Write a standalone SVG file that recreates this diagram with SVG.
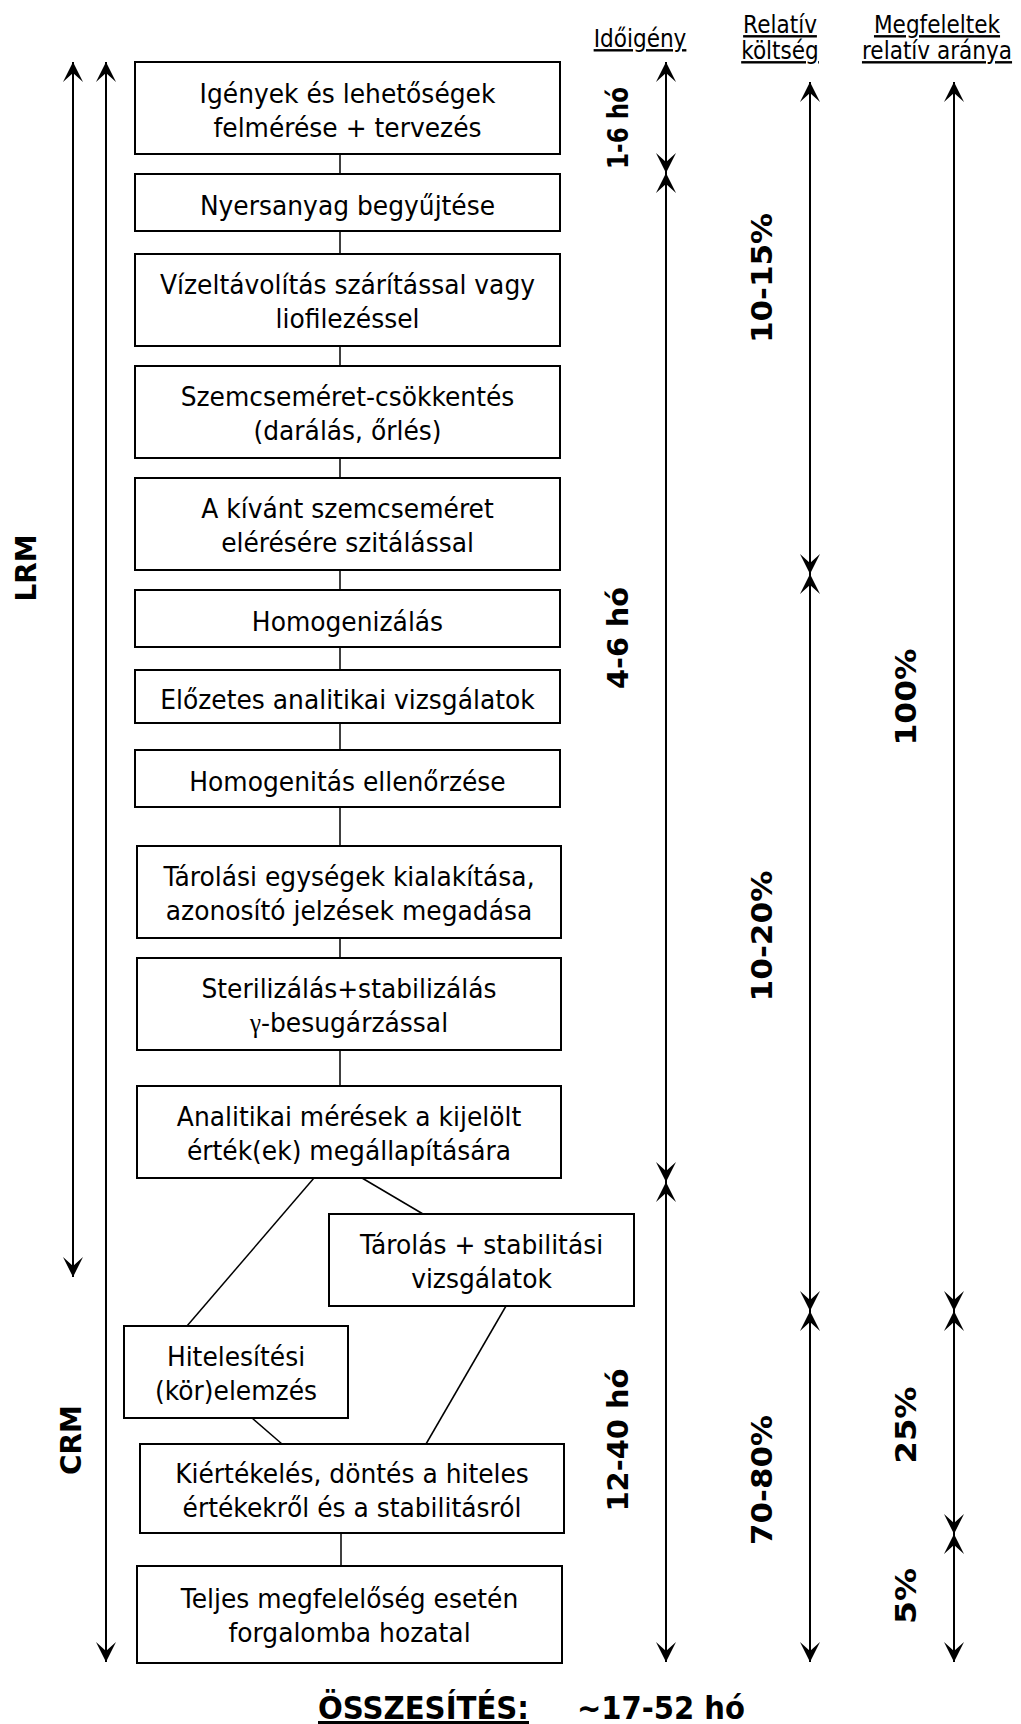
<svg xmlns="http://www.w3.org/2000/svg" width="1021" height="1724" viewBox="0 0 1021 1724">
  <style>
    .box { fill: #fff; stroke: #000; stroke-width: 2; }
    .t { font-family: "DejaVu Sans", Verdana, sans-serif; font-size: 27px; text-anchor: middle; fill: #000; }
    .hd { font-family: "DejaVu Sans", Verdana, sans-serif; font-size: 24px; text-anchor: middle; text-decoration: underline; fill: #000; }
    .lb { font-family: "DejaVu Sans", Verdana, sans-serif; font-size: 28.5px; font-weight: bold; text-anchor: middle; fill: #000; }
    .sum { font-family: "DejaVu Sans", Verdana, sans-serif; font-size: 32px; font-weight: bold; text-anchor: middle; fill: #000; }
    .link { stroke: #000; stroke-width: 1.5; fill: none; }
    .dim2 { stroke: #000; stroke-width: 2; fill: none; marker-start: url(#ah); marker-end: url(#ah); }
  </style>
  <defs>
    <marker id="ah" viewBox="-20 -10 20 20" refX="0" refY="0" markerWidth="20" markerHeight="20" markerUnits="userSpaceOnUse" orient="auto-start-reverse">
      <path d="M0,0 L-20,-10 L-11,0 L-20,10 Z" fill="#000"/>
    </marker>
  </defs>
  <rect width="1021" height="1724" fill="#fff"/>

  <!-- column headings -->
  <g id="headings">
    <text class="hd" transform="translate(640,47) scale(0.9,1)">Időigény</text>
    <text class="hd" transform="translate(780,33) scale(0.9,1)">Relatív</text>
    <text class="hd" transform="translate(780,59) scale(0.9,1)">költség</text>
    <text class="hd" transform="translate(937,33) scale(0.9,1)">Megfeleltek</text>
    <text class="hd" transform="translate(937,59) scale(0.9,1)">relatív aránya</text>
  </g>

  <!-- connectors: flow links and range arrows -->
  <g id="connectors">
    <line class="link" x1="340" y1="154" x2="340" y2="174"/>
    <line class="link" x1="340" y1="231" x2="340" y2="254"/>
    <line class="link" x1="340" y1="346" x2="340" y2="366"/>
    <line class="link" x1="340" y1="458" x2="340" y2="478"/>
    <line class="link" x1="340" y1="570" x2="340" y2="590"/>
    <line class="link" x1="340" y1="647" x2="340" y2="670"/>
    <line class="link" x1="340" y1="723" x2="340" y2="750"/>
    <line class="link" x1="340" y1="807" x2="340" y2="846"/>
    <line class="link" x1="340" y1="938" x2="340" y2="958"/>
    <line class="link" x1="340" y1="1050" x2="340" y2="1086"/>
    <line class="link" x1="314" y1="1178" x2="187" y2="1326"/>
    <line class="link" x1="362" y1="1178" x2="423" y2="1214"/>
    <line class="link" x1="506" y1="1306" x2="426" y2="1444"/>
    <line class="link" x1="252" y1="1418" x2="282" y2="1444"/>
    <line class="link" x1="341" y1="1533" x2="341" y2="1566"/>

    <!-- LRM / CRM spans -->
    <line class="dim2" x1="73" y1="62" x2="73" y2="1277"/>
    <line class="dim2" x1="106" y1="62" x2="106" y2="1662"/>

    <!-- time column -->
    <line class="dim2" x1="666" y1="62" x2="666" y2="173"/>
    <line class="dim2" x1="666" y1="173" x2="666" y2="1182"/>
    <line class="dim2" x1="666" y1="1182" x2="666" y2="1662"/>

    <!-- relative cost column -->
    <line class="dim2" x1="810" y1="82" x2="810" y2="574"/>
    <line class="dim2" x1="810" y1="574" x2="810" y2="1311"/>
    <line class="dim2" x1="810" y1="1311" x2="810" y2="1662"/>

    <!-- conforming ratio column -->
    <line class="dim2" x1="954" y1="82" x2="954" y2="1311"/>
    <line class="dim2" x1="954" y1="1311" x2="954" y2="1534"/>
    <line class="dim2" x1="954" y1="1534" x2="954" y2="1662"/>
  </g>

  <!-- process steps -->
  <g id="n1"><rect class="box" x="135" y="62" width="425" height="92"/>
    <text class="t" transform="translate(347.5,103) scale(0.925,1)">Igények és lehetőségek</text>
    <text class="t" transform="translate(347.5,137) scale(0.925,1)">felmérése + tervezés</text></g>
  <g id="n2"><rect class="box" x="135" y="174" width="425" height="57"/>
    <text class="t" transform="translate(347.5,215) scale(0.925,1)">Nyersanyag begyűjtése</text></g>
  <g id="n3"><rect class="box" x="135" y="254" width="425" height="92"/>
    <text class="t" transform="translate(347.5,294) scale(0.925,1)">Vízeltávolítás szárítással vagy</text>
    <text class="t" transform="translate(347.5,328) scale(0.925,1)">liofilezéssel</text></g>
  <g id="n4"><rect class="box" x="135" y="366" width="425" height="92"/>
    <text class="t" transform="translate(347.5,406) scale(0.925,1)">Szemcseméret-csökkentés</text>
    <text class="t" transform="translate(347.5,440) scale(0.925,1)">(darálás, őrlés)</text></g>
  <g id="n5"><rect class="box" x="135" y="478" width="425" height="92"/>
    <text class="t" transform="translate(347.5,518) scale(0.925,1)">A kívánt szemcseméret</text>
    <text class="t" transform="translate(347.5,552) scale(0.925,1)">elérésére szitálással</text></g>
  <g id="n6"><rect class="box" x="135" y="590" width="425" height="57"/>
    <text class="t" transform="translate(347.5,630.5) scale(0.925,1)">Homogenizálás</text></g>
  <g id="n7"><rect class="box" x="135" y="670" width="425" height="53"/>
    <text class="t" transform="translate(347.5,708.5) scale(0.925,1)">Előzetes analitikai vizsgálatok</text></g>
  <g id="n8"><rect class="box" x="135" y="750" width="425" height="57"/>
    <text class="t" transform="translate(347.5,790.5) scale(0.925,1)">Homogenitás ellenőrzése</text></g>
  <g id="n9"><rect class="box" x="137" y="846" width="424" height="92"/>
    <text class="t" transform="translate(349,886) scale(0.925,1)">Tárolási egységek kialakítása,</text>
    <text class="t" transform="translate(349,920) scale(0.925,1)">azonosító jelzések megadása</text></g>
  <g id="n10"><rect class="box" x="137" y="958" width="424" height="92"/>
    <text class="t" transform="translate(349,998) scale(0.925,1)">Sterilizálás+stabilizálás</text>
    <text class="t" transform="translate(349,1032) scale(0.925,1)"><tspan font-family="'Liberation Serif', serif">γ</tspan>-besugárzással</text></g>
  <g id="n11"><rect class="box" x="137" y="1086" width="424" height="92"/>
    <text class="t" transform="translate(349,1126) scale(0.925,1)">Analitikai mérések a kijelölt</text>
    <text class="t" transform="translate(349,1160) scale(0.925,1)">érték(ek) megállapítására</text></g>
  <g id="n12"><rect class="box" x="329" y="1214" width="305" height="92"/>
    <text class="t" transform="translate(481.5,1254) scale(0.925,1)">Tárolás + stabilitási</text>
    <text class="t" transform="translate(481.5,1288) scale(0.925,1)">vizsgálatok</text></g>
  <g id="n13"><rect class="box" x="124" y="1326" width="224" height="92"/>
    <text class="t" transform="translate(236,1366) scale(0.925,1)">Hitelesítési</text>
    <text class="t" transform="translate(236,1400) scale(0.925,1)">(kör)elemzés</text></g>
  <g id="n14"><rect class="box" x="140" y="1444" width="424" height="89"/>
    <text class="t" transform="translate(352,1483) scale(0.925,1)">Kiértékelés, döntés a hiteles</text>
    <text class="t" transform="translate(352,1517) scale(0.925,1)">értékekről és a stabilitásról</text></g>
  <g id="n15"><rect class="box" x="137" y="1566" width="425" height="97"/>
    <text class="t" transform="translate(349.5,1608) scale(0.925,1)">Teljes megfelelőség esetén</text>
    <text class="t" transform="translate(349.5,1642) scale(0.925,1)">forgalomba hozatal</text></g>

  <!-- rotated range labels -->
  <g id="labels">
    <text class="lb" transform="translate(36,568) rotate(-90)" textLength="67" lengthAdjust="spacingAndGlyphs">LRM</text>
    <text class="lb" transform="translate(81,1440) rotate(-90)" textLength="70" lengthAdjust="spacingAndGlyphs">CRM</text>
    <text class="lb" transform="translate(628,128) rotate(-90)" textLength="82" lengthAdjust="spacingAndGlyphs">1-6 hó</text>
    <text class="lb" transform="translate(628,638) rotate(-90)" textLength="102" lengthAdjust="spacingAndGlyphs">4-6 hó</text>
    <text class="lb" transform="translate(628,1440) rotate(-90)" textLength="143" lengthAdjust="spacingAndGlyphs">12-40 hó</text>
    <text class="lb" transform="translate(772,278) rotate(-90)" textLength="130" lengthAdjust="spacingAndGlyphs">10-15%</text>
    <text class="lb" transform="translate(772,936) rotate(-90)" textLength="131" lengthAdjust="spacingAndGlyphs">10-20%</text>
    <text class="lb" transform="translate(772,1480) rotate(-90)" textLength="130" lengthAdjust="spacingAndGlyphs">70-80%</text>
    <text class="lb" transform="translate(916,697) rotate(-90)" textLength="97" lengthAdjust="spacingAndGlyphs">100%</text>
    <text class="lb" transform="translate(916,1425) rotate(-90)" textLength="77" lengthAdjust="spacingAndGlyphs">25%</text>
    <text class="lb" transform="translate(916,1596) rotate(-90)" textLength="56" lengthAdjust="spacingAndGlyphs">5%</text>
  </g>

  <!-- summary line -->
  <g id="summary">
    <text class="sum" x="423.5" y="1719" text-decoration="underline" textLength="211" lengthAdjust="spacingAndGlyphs">ÖSSZESÍTÉS:</text>
    <text class="sum" x="661" y="1719" textLength="168" lengthAdjust="spacingAndGlyphs">~17-52 hó</text>
  </g>
</svg>
